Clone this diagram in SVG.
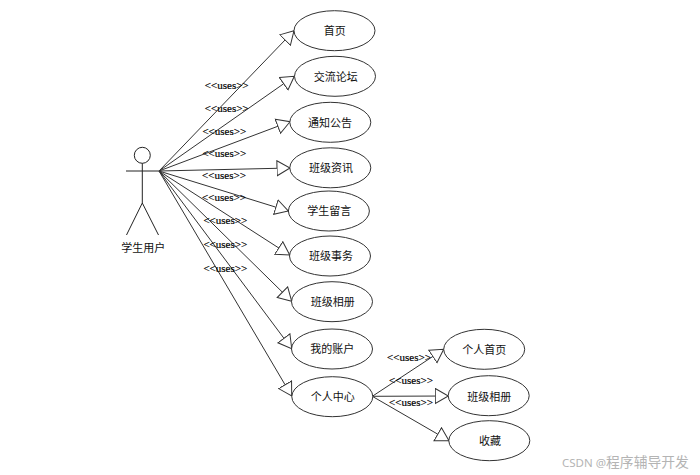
<svg xmlns="http://www.w3.org/2000/svg" width="700" height="475" viewBox="0 0 700 475">
<style>
.bg{fill:#fff}
.n ellipse{fill:#fff;stroke:#333;stroke-width:1}
.n text,.a text{font-family:"Noto Sans CJK SC","Liberation Sans",sans-serif;font-size:11px;text-anchor:middle;fill:#111}
.c line{stroke:#333;stroke-width:1;marker-end:url(#tri)}
.u{font-family:"Liberation Serif",serif;font-size:11px;text-anchor:middle;fill:#000;stroke:#000;stroke-width:.2}
.a circle,.a line{fill:#fff;stroke:#222;stroke-width:1}
.w{font-family:"Noto Sans","Noto Sans CJK SC",sans-serif;fill:#b4b4b4}
</style>
<defs>
<marker id="tri" markerUnits="userSpaceOnUse" markerWidth="15" markerHeight="18" refX="13.5" refY="8.5" orient="auto">
<path d="M0.5,1 L13.5,8.5 L0.5,16 Z" fill="#fff" stroke="#333" stroke-width="1"/>
</marker>
</defs>
<rect class="bg" width="700" height="475"/>
<g id="connectors" class="c">
<line x1="159" y1="171" x2="294" y2="30.7"/>
<line x1="159" y1="171" x2="294.3" y2="76.3"/>
<line x1="159" y1="171" x2="290" y2="121.7"/>
<line x1="159" y1="171" x2="290" y2="168"/>
<line x1="159" y1="171" x2="288.3" y2="211"/>
<line x1="159" y1="171" x2="289.7" y2="255"/>
<line x1="159" y1="171" x2="291.7" y2="301.3"/>
<line x1="159" y1="171" x2="291.7" y2="348.7"/>
<line x1="159" y1="171" x2="291.7" y2="396"/>
<line x1="372.3" y1="396.3" x2="443.7" y2="349.3"/>
<line x1="372.3" y1="396.3" x2="448.3" y2="396"/>
<line x1="372.3" y1="396.3" x2="449" y2="440.7"/>
</g>
<g id="connector-labels">
<text class="u" x="226.7" y="89">&lt;&lt;uses&gt;&gt;</text>
<text class="u" x="226.7" y="112">&lt;&lt;uses&gt;&gt;</text>
<text class="u" x="224.3" y="135">&lt;&lt;uses&gt;&gt;</text>
<text class="u" x="224.3" y="157">&lt;&lt;uses&gt;&gt;</text>
<text class="u" x="224" y="179">&lt;&lt;uses&gt;&gt;</text>
<text class="u" x="224" y="201">&lt;&lt;uses&gt;&gt;</text>
<text class="u" x="225.3" y="224">&lt;&lt;uses&gt;&gt;</text>
<text class="u" x="225.3" y="248">&lt;&lt;uses&gt;&gt;</text>
<text class="u" x="225.3" y="272">&lt;&lt;uses&gt;&gt;</text>
<text class="u" x="409" y="361">&lt;&lt;uses&gt;&gt;</text>
<text class="u" x="411" y="384">&lt;&lt;uses&gt;&gt;</text>
<text class="u" x="411" y="406">&lt;&lt;uses&gt;&gt;</text>
</g>
<g id="actor" class="a">
<circle cx="142.3" cy="155.3" r="8"/>
<line x1="142.3" y1="163.3" x2="142.3" y2="203"/>
<line x1="126" y1="171" x2="159" y2="171"/>
<line x1="142.3" y1="203" x2="126.5" y2="235"/>
<line x1="142.3" y1="203" x2="158.5" y2="235"/>
<text x="143.3" y="252">学生用户</text>
</g>
<g id="n1" class="n"><ellipse cx="334.5" cy="30.7" rx="40.5" ry="20"/><text x="334.7" y="35">首页</text></g>
<g id="n2" class="n"><ellipse cx="335" cy="76.3" rx="40.5" ry="20"/><text x="335.7" y="80.5">交流论坛</text></g>
<g id="n3" class="n"><ellipse cx="330.3" cy="122.3" rx="40.5" ry="20"/><text x="330" y="126.5">通知公告</text></g>
<g id="n4" class="n"><ellipse cx="330.3" cy="167.8" rx="40.5" ry="20"/><text x="331" y="172">班级资讯</text></g>
<g id="n5" class="n"><ellipse cx="328.9" cy="211" rx="40.5" ry="20"/><text x="329.3" y="215">学生留言</text></g>
<g id="n6" class="n"><ellipse cx="330" cy="256" rx="40.5" ry="20"/><text x="331" y="260">班级事务</text></g>
<g id="n7" class="n"><ellipse cx="332" cy="301.7" rx="40.5" ry="20"/><text x="332.7" y="306">班级相册</text></g>
<g id="n8" class="n"><ellipse cx="332" cy="349" rx="40.5" ry="20"/><text x="332.3" y="353">我的账户</text></g>
<g id="n9" class="n"><ellipse cx="332.3" cy="396.7" rx="40.5" ry="20"/><text x="332.7" y="401">个人中心</text></g>
<g id="n10" class="n"><ellipse cx="484.2" cy="349.3" rx="40.5" ry="20"/><text x="484.3" y="354">个人首页</text></g>
<g id="n11" class="n"><ellipse cx="488.7" cy="395.7" rx="40.5" ry="20"/><text x="489.3" y="400.5">班级相册</text></g>
<g id="n12" class="n"><ellipse cx="489.3" cy="440.7" rx="40.5" ry="20"/><text x="490" y="445">收藏</text></g>
<text class="w" x="562" y="466.5"><tspan font-size="11.5">CSDN @</tspan><tspan font-size="13.8">程序辅导开发</tspan></text>
</svg>
